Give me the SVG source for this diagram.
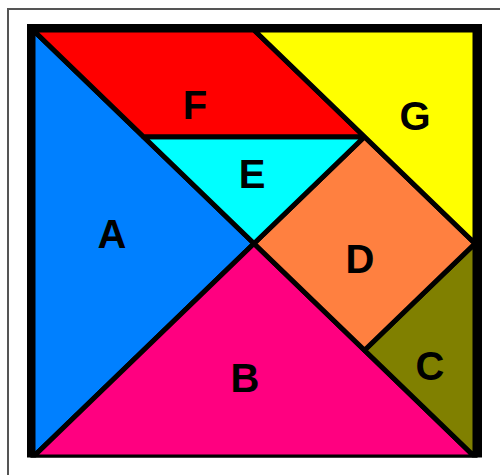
<svg xmlns="http://www.w3.org/2000/svg" width="500" height="475" viewBox="0 0 500 475">
<style>
.pc{stroke:#000;stroke-width:5;stroke-linejoin:round}
.lbl{font-family:"Liberation Sans",Arial,sans-serif;font-weight:bold;font-size:40px;fill:#000;text-anchor:middle}
</style>
<defs><clipPath id="clip"><rect x="0" y="0" width="500" height="457.5"/></clipPath></defs>
<rect x="0" y="0" width="500" height="475" fill="#fff"/>
<rect x="8" y="9" width="600" height="600" fill="none" stroke="#555" stroke-width="2"/>
<g clip-path="url(#clip)">
<rect id="frame" x="27" y="24" width="455" height="434" fill="#000"/>
<g id="A"><polygon class="pc" fill="#0080FF" points="33,30 33,457 254,243.5"/><text class="lbl" x="112" y="248">A</text></g>
<g id="B"><polygon class="pc" fill="#FF0080" points="33,457 475,457 254,243.5"/><text class="lbl" x="245" y="392">B</text></g>
<g id="C"><polygon class="pc" fill="#808000" points="475,243.5 475,457 364.5,350.25"/><text class="lbl" x="430" y="380">C</text></g>
<g id="D"><polygon class="pc" fill="#FF8040" points="254,243.5 364.5,136.75 475,243.5 364.5,350.25"/><text class="lbl" x="360" y="273">D</text></g>
<g id="E"><polygon class="pc" fill="#00FFFF" points="143.5,136.75 364.5,136.75 254,243.5"/><text class="lbl" x="252" y="188">E</text></g>
<g id="F"><polygon class="pc" fill="#FF0000" points="33,30 254,30 364.5,136.75 143.5,136.75"/><text class="lbl" x="195" y="119">F</text></g>
<g id="G"><polygon class="pc" fill="#FFFF00" points="254,30 475,30 475,243.5"/><text class="lbl" x="415" y="130">G</text></g>
</g>
<g id="connectors"></g>
</svg>
